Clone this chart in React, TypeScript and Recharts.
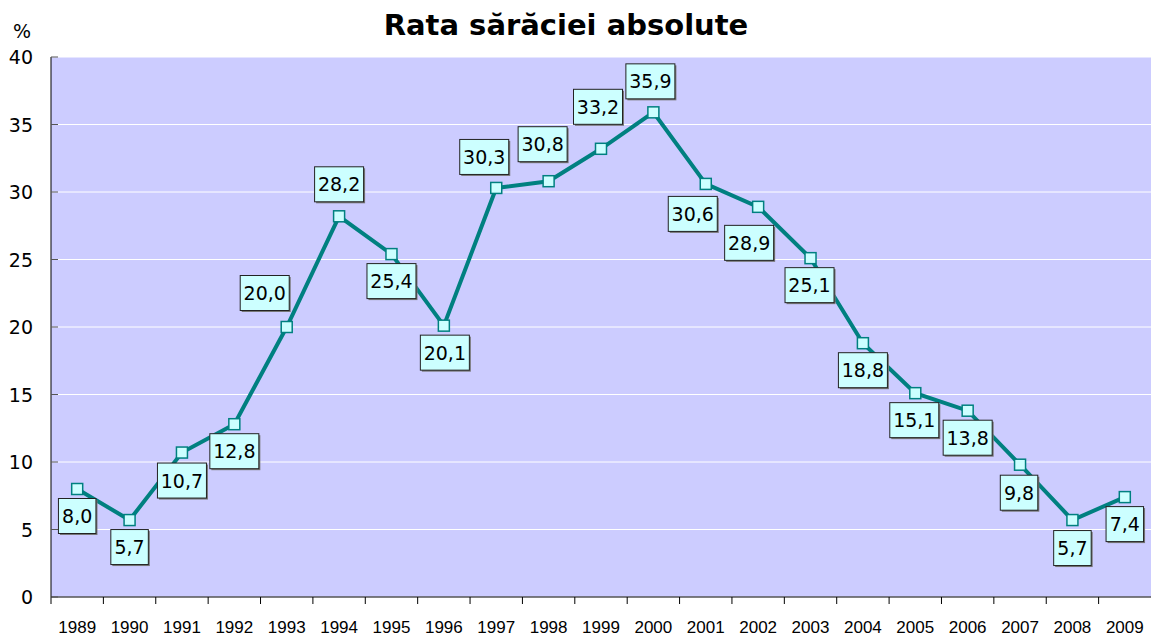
import { LineChart, Line, XAxis, YAxis, CartesianGrid, LabelList } from "recharts";

const years = [
  "1989", "1990", "1991", "1992", "1993", "1994", "1995", "1996", "1997", "1998", "1999",
  "2000", "2001", "2002", "2003", "2004", "2005", "2006", "2007", "2008", "2009",
];
const rates = [
  8.0, 5.7, 10.7, 12.8, 20.0, 28.2, 25.4, 20.1, 30.3, 30.8, 33.2,
  35.9, 30.6, 28.9, 25.1, 18.8, 15.1, 13.8, 9.8, 5.7, 7.4,
];
const yTicks = [0, 5, 10, 15, 20, 25, 30, 35, 40];

// label box placement relative to its marker (dx, dy), as dragged in the original
const labelNudge: [number, number][] = [
  [0, 27], [0, 27], [0, 28], [0, 27], [-22, -34], [0, -32], [0, 27], [1, 27],
  [-12, -31], [-6, -37], [-3, -42], [-3, -31], [-13, 30], [-9, 36], [-1, 27],
  [0, 27], [-1, 27], [0, 27], [-1, 28], [0, 28], [0, 27],
];

const W = 1151;
const H = 640;
const PLOT_LEFT = 51;
const BAND = (W - PLOT_LEFT) / years.length;
const TEAL = "#008080";
const CYAN = "#CCFFFF";
const VERDANA = "Verdana, 'DejaVu Sans', sans-serif";

const data = years.map((y, i) => ({ year: y, rate: rates[i] }));

const fmt = (v: number) => v.toFixed(1).replace(".", ",");

function XTick({ x, y, payload }: any) {
  const bx = x - BAND / 2;
  return (
    <g>
      <line x1={bx} y1={y} x2={bx} y2={y + 7} stroke="#000" strokeWidth={1} />
      <text
        x={x}
        y={y + 36}
        textAnchor="middle"
        fontFamily="Arial, 'Liberation Sans', sans-serif"
        fontSize={17}
        fill="#000"
      >
        {payload.value}
      </text>
    </g>
  );
}

function YTick({ x, y, payload }: any) {
  return (
    <g>
      <line x1={x} y1={y} x2={x + 7} y2={y} stroke="#555" strokeWidth={1} />
      <text x={x - 18} y={y + 7} textAnchor="end" fontFamily={VERDANA} fontSize={19} fill="#000">
        {payload.value}
      </text>
    </g>
  );
}

function Marker({ cx, cy }: any) {
  if (cx == null || cy == null) return null;
  return (
    <rect x={cx - 5.5} y={cy - 5.5} width={11} height={11} fill={CYAN} stroke={TEAL} strokeWidth={1.5} />
  );
}

function ValueBox({ x, y, value, index }: any) {
  const txt = fmt(Number(value));
  const digits = txt.length - 1;
  const w = digits * 11.5 + 14.5;
  const h = 35;
  const [dx, dy] = labelNudge[index] ?? [0, 27];
  const cx = x + dx;
  const cy = y + dy;
  return (
    <g>
      <rect x={cx - w / 2 + 1.5} y={cy - h / 2 + 1.5} width={w} height={h} fill="#777" />
      <rect x={cx - w / 2} y={cy - h / 2} width={w} height={h} fill={CYAN} stroke="#222" strokeWidth={1} />
      <text x={cx} y={cy + 7} textAnchor="middle" fontFamily={VERDANA} fontSize={19} fill="#000">
        {txt}
      </text>
    </g>
  );
}

export default function App() {
  return (
    <div style={{ position: "absolute", left: 0, top: 0, width: W, height: H, background: "#fff" }}>
      <LineChart width={W} height={H} data={data} margin={{ top: 57, right: 0, left: 0, bottom: 0 }}>
        <CartesianGrid vertical={false} stroke="#fff" strokeWidth={1} fill="#CCCCFF" fillOpacity={1} />
        <XAxis
          dataKey="year"
          scale="band"
          height={43}
          axisLine={{ stroke: "#000", strokeWidth: 1 }}
          tickLine={false}
          tickSize={0}
          tickMargin={0}
          interval={0}
          tick={<XTick />}
        />
        <YAxis
          width={PLOT_LEFT}
          domain={[0, 40]}
          ticks={yTicks}
          interval={0}
          axisLine={{ stroke: "#000", strokeWidth: 1 }}
          tickLine={false}
          tickSize={0}
          tickMargin={0}
          tick={<YTick />}
        />
        <Line
          dataKey="rate"
          stroke={TEAL}
          strokeWidth={4}
          dot={<Marker />}
          activeDot={false}
          isAnimationActive={false}
        >
          <LabelList dataKey="rate" content={<ValueBox />} />
        </Line>
      </LineChart>
      <svg width={W} height={H} style={{ position: "absolute", left: 0, top: 0, pointerEvents: "none" }}>
        <text x={566} y={35} textAnchor="middle" fontFamily={VERDANA} fontWeight="bold" fontSize={29} fill="#000">
          Rata sărăciei absolute
        </text>
        <text x={22} y={38} textAnchor="middle" fontFamily={VERDANA} fontSize={19} fill="#000">
          %
        </text>
      </svg>
    </div>
  );
}
